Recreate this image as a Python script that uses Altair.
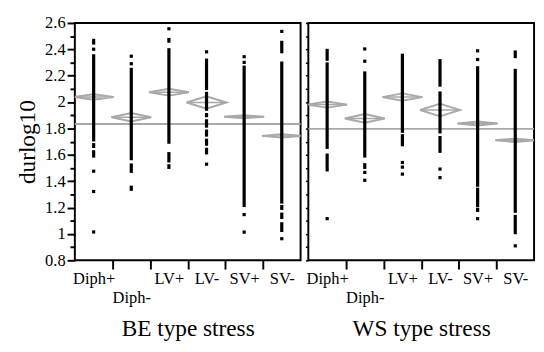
import json
import altair as alt
import pandas as pd

CATEGORIES = ["Diph+", "Diph-", "LV+", "LV-", "SV+", "SV-"]
Y_TICKS = [0.8, 0.9, 1.0, 1.1, 1.2, 1.3, 1.4, 1.5, 1.6, 1.7, 1.8, 1.9, 2.0,
           2.1, 2.2, 2.3, 2.4, 2.5, 2.6]
X_TICKS = [1, 2, 3, 4, 5, 6]

# ---- BE type stress: dense runs of points (top, bottom) and isolated points
BE_DIPH_P_RUNS = [(2.480, 2.436), (2.363, 1.701), (1.689, 1.652), (1.635, 1.579)]
BE_DIPH_P_PTS = [2.401, 1.476, 1.322, 1.015]
BE_DIPH_M_RUNS = [(2.260, 1.559), (1.535, 1.463), (1.366, 1.327)]
BE_DIPH_M_PTS = [2.348, 2.291]
BE_LV_P_RUNS = [(2.487, 2.450), (2.409, 1.684), (1.621, 1.542), (1.529, 1.493)]
BE_LV_P_PTS = [2.556]
BE_LV_M_RUNS = [(2.330, 2.091), (2.078, 1.934), (1.917, 1.885), (1.870, 1.806),
                (1.792, 1.738), (1.723, 1.669), (1.654, 1.603)]
BE_LV_M_PTS = [2.381, 1.529]
BE_SV_P_RUNS = [(2.277, 1.204)]
BE_SV_P_PTS = [2.344, 2.301, 1.147, 1.014]
BE_SV_M_RUNS = [(2.465, 2.370), (2.308, 1.230), (1.220, 1.182), (1.162, 1.113),
                (1.089, 1.015)]
BE_SV_M_PTS = [2.536, 0.964]
BE_MEANS = [2.039, 1.885, 2.075, 1.997, 1.889, 1.744]
BE_CI = [0.021, 0.032, 0.026, 0.047, 0.011, 0.013]
BE_GRAND_MEAN = 1.834

# ---- WS type stress
WS_DIPH_P_RUNS = [(2.404, 2.313), (2.301, 1.645), (1.610, 1.474)]
WS_DIPH_P_PTS = [1.116]
WS_DIPH_M_RUNS = [(2.233, 1.579), (1.537, 1.493)]
WS_DIPH_M_PTS = [2.403, 2.310, 1.467, 1.407]
WS_LV_P_RUNS = [(2.367, 1.767), (1.757, 1.665)]
WS_LV_P_PTS = [1.542, 1.507, 1.454]
WS_LV_M_RUNS = [(2.326, 2.117), (2.081, 1.762), (1.743, 1.615)]
WS_LV_M_PTS = [1.492, 1.427]
WS_SV_P_RUNS = [(2.272, 1.358), (1.351, 1.204), (1.199, 1.167)]
WS_SV_P_PTS = [2.389, 2.323, 1.116]
WS_SV_M_RUNS = [(2.392, 2.333), (2.252, 1.160), (1.145, 0.998)]
WS_SV_M_PTS = [0.910]
WS_MEANS = [1.981, 1.876, 2.038, 1.940, 1.838, 1.710]
WS_CI = [0.023, 0.033, 0.028, 0.048, 0.015, 0.013]
WS_GRAND_MEAN = 1.797

FONT = "Liberation Serif"
GRAY = "#a9a9a9"
H = 245
HALF_W = 0.53  # diamond half width, in category units

MAJOR = "round(datum.value * 10) % 2 == 0"
LABEL_FONT = {"condition": {"test": "true", "value": FONT}, "value": FONT}
LABEL_SIZE = {"condition": {"test": "true", "value": 17}, "value": 17}
LABEL_COLOR = {"condition": {"test": "true", "value": "black"}, "value": "black"}


def panel(runs, pts, means, ci, grand, title, width, first):
    xscale = alt.Scale(domain=[0, 6], nice=False, zero=False, padding=0)
    yscale = alt.Scale(domain=[0.8, 2.6], nice=False, zero=False, padding=0)
    xaxis = alt.Axis(
        values=X_TICKS,
        labelExpr=json.dumps(CATEGORIES) + "[round(datum.value) - 1]",
        labelOffset=-width / 12.0,
        labelPadding={"condition": {"test": "round(datum.value) == 2", "value": 22}, "value": 2},
        tickOpacity={"condition": {"test": "datum.value == 6", "value": 0}, "value": 1},
        tickSize=9, tickWidth=2, tickColor="black",
        labelFont=LABEL_FONT, labelFontSize=LABEL_SIZE, labelColor=LABEL_COLOR,
        labelFlush=False, labelOverlap=False, labelBound=False,
        domain=False, grid=False,
        title=title, titleY=78, titleBaseline="alphabetic",
    )
    if first:
        yaxis = alt.Axis(
            values=Y_TICKS,
            labelExpr=MAJOR + " ? format(datum.value, '~g') : ''",
            tickSize={"condition": {"test": MAJOR, "value": 8}, "value": 5},
            tickWidth=2, tickColor="black", labelPadding=2,
            labelFont=LABEL_FONT, labelFontSize=LABEL_SIZE, labelColor=LABEL_COLOR,
            domain=False, grid=False, labelOverlap=False, labelFlush=False,
            title="durlog10", titleX=-42, titleBaseline="alphabetic",
        )
    else:
        yaxis = alt.Axis(values=Y_TICKS, labels=False, tickSize=3, tickWidth=1.5,
                         tickColor="black", domain=False, grid=False, title=None)

    def X(f):
        return alt.X(f, type="quantitative", scale=xscale, axis=xaxis)

    def Y(f):
        return alt.Y(f, type="quantitative", scale=yscale, axis=yaxis)

    run_rows = [{"x": i + 0.5, "y": a, "y2": b}
                for i, rr in enumerate(runs) for a, b in rr]
    pt_rows = [{"x": i + 0.5, "y": v} for i, pp in enumerate(pts) for v in pp]
    dia_rows = []
    for i, (m, h) in enumerate(zip(means, ci)):
        for k, (dx, dy) in enumerate([(-1, 0), (0, 1), (1, 0), (0, -1), (-1, 0)]):
            dia_rows.append({"cat": CATEGORIES[i], "k": k,
                             "x": i + 0.5 + dx * HALF_W, "y": m + dy * h})
    mean_rows = [{"x": i + 0.5 - HALF_W, "x2": i + 0.5 + HALF_W, "y": m}
                 for i, m in enumerate(means)]

    diamonds = alt.Chart(pd.DataFrame(dia_rows)).mark_line(
        color=GRAY, strokeWidth=2, clip=True
    ).encode(x=X("x"), y=Y("y"), detail="cat:N", order="k:Q")
    grand_line = alt.Chart(pd.DataFrame({"y": [grand]})).mark_rule(
        color=GRAY, strokeWidth=2
    ).encode(y=Y("y"))
    mean_lines = alt.Chart(pd.DataFrame(mean_rows)).mark_rule(
        color=GRAY, strokeWidth=1.5, clip=True
    ).encode(x=X("x"), x2="x2", y=Y("y"))
    run_marks = alt.Chart(pd.DataFrame(run_rows)).mark_rule(
        color="black", strokeWidth=3.3, strokeCap="butt"
    ).encode(x=X("x"), y=Y("y"), y2="y2")
    pt_marks = alt.Chart(pd.DataFrame(pt_rows)).mark_square(
        color="black", size=11, opacity=1
    ).encode(x=X("x"), y=Y("y"))

    return alt.layer(diamonds, grand_line, mean_lines, run_marks, pt_marks).properties(
        width=width, height=H
    )


left = panel(
    [BE_DIPH_P_RUNS, BE_DIPH_M_RUNS, BE_LV_P_RUNS, BE_LV_M_RUNS, BE_SV_P_RUNS, BE_SV_M_RUNS],
    [BE_DIPH_P_PTS, BE_DIPH_M_PTS, BE_LV_P_PTS, BE_LV_M_PTS, BE_SV_P_PTS, BE_SV_M_PTS],
    BE_MEANS, BE_CI, BE_GRAND_MEAN, "BE type stress", 233, True,
)
right = panel(
    [WS_DIPH_P_RUNS, WS_DIPH_M_RUNS, WS_LV_P_RUNS, WS_LV_M_RUNS, WS_SV_P_RUNS, WS_SV_M_RUNS],
    [WS_DIPH_P_PTS, WS_DIPH_M_PTS, WS_LV_P_PTS, WS_LV_M_PTS, WS_SV_P_PTS, WS_SV_M_PTS],
    WS_MEANS, WS_CI, WS_GRAND_MEAN, "WS type stress", 233, False,
)

chart = alt.hconcat(left, right, spacing=1).properties(
    padding={"left": 7, "top": 0, "right": 0, "bottom": 0},
    background="white",
).configure_view(
    stroke="black", strokeWidth=2
).configure_axis(
    labelFont=FONT, labelFontSize=17, labelColor="black",
    titleFont=FONT, titleFontSize=24, titleFontWeight="normal", titleColor="black",
)

chart.save("out.html", embed_options={"renderer": "svg", "actions": False})
